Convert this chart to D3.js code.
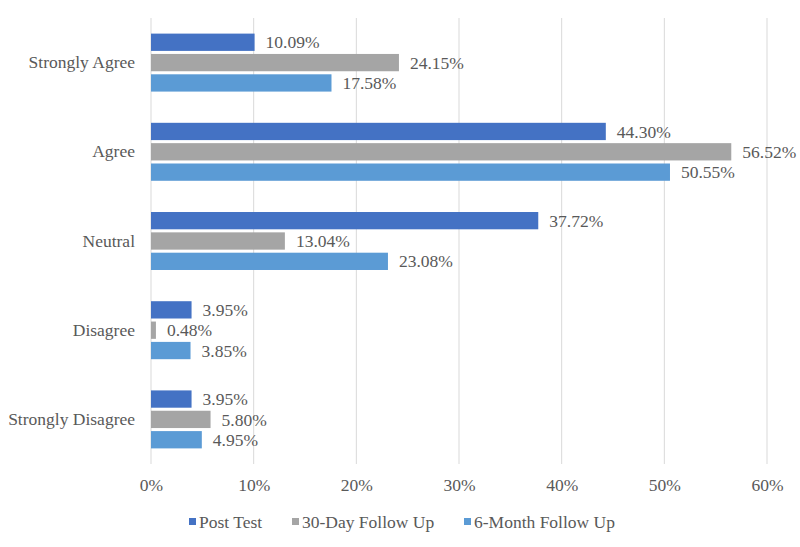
<!DOCTYPE html>
<html>
<head>
<meta charset="utf-8">
<script src="https://cdn.jsdelivr.net/npm/d3@7"></script>
<style>
  body { margin: 0; background: #fff; }
  text { font-family: "Liberation Serif", "Times New Roman", serif; fill: #595959; }
</style>
</head>
<body>
<div id="chart"></div>
<script>
// 数据
const categories = ["Strongly Agree", "Agree", "Neutral", "Disagree", "Strongly Disagree"];
const seriesNames = ["Post Test", "30-Day Follow Up", "6-Month Follow Up"];
const postTest = [10.09, 44.30, 37.72, 3.95, 3.95];
const followUp30 = [24.15, 56.52, 13.04, 0.48, 5.80];
const followUp6m = [17.58, 50.55, 23.08, 3.85, 4.95];
const xTicks = [0, 10, 20, 30, 40, 50, 60];
const colors = ["#4472C4", "#A5A5A5", "#5B9BD5"];

const seriesValues = [postTest, followUp30, followUp6m];

const width = 800, height = 547;
const margin = { top: 18, right: 33, bottom: 83, left: 151 };
const fontSize = "17.5px";

const svg = d3.select("#chart")
              .append("svg")
              .attr("width", width)
              .attr("height", height);

const x = d3.scaleLinear()
            .domain([0, 60])
            .range([margin.left, width - margin.right]);

const y0 = d3.scaleBand()
             .domain(categories)
             .range([margin.top, height - margin.bottom])
             .paddingInner(0.35)
             .paddingOuter(0.175);

const y1 = d3.scaleBand()
             .domain(seriesNames)
             .range([0, y0.bandwidth()])
             .paddingInner(0.15);

// 网格线
svg.append("g")
   .selectAll("line")
   .data(xTicks)
   .enter()
   .append("line")
   .attr("x1", d => x(d))
   .attr("x2", d => x(d))
   .attr("y1", margin.top)
   .attr("y2", height - margin.bottom)
   .attr("stroke", "#d9d9d9")
   .attr("stroke-width", 1);

// x轴标签
const xAxis = svg.append("g")
   .attr("transform", `translate(0,${height - margin.bottom})`)
   .call(d3.axisBottom(x).tickValues(xTicks).tickFormat(d => d + "%").tickSize(0).tickPadding(15));
xAxis.select(".domain").remove();
xAxis.selectAll("text")
     .style("font-size", fontSize)
     .attr("fill", "#595959")
     .style("font-family", "'Liberation Serif', serif");

// y轴标签
const yAxis = svg.append("g")
   .attr("transform", `translate(${margin.left},0)`)
   .call(d3.axisLeft(y0).tickSize(0).tickPadding(16));
yAxis.select(".domain").remove();
yAxis.selectAll("text")
     .style("font-size", fontSize)
     .attr("fill", "#595959")
     .style("font-family", "'Liberation Serif', serif");

// 柱子
const rows = [];
categories.forEach((c, i) => {
    seriesNames.forEach((s, j) => {
        rows.push({ cat: c, series: s, value: seriesValues[j][i], color: colors[j] });
    });
});

svg.selectAll(".bar")
   .data(rows)
   .enter()
   .append("rect")
   .attr("class", "bar")
   .attr("x", x(0))
   .attr("y", d => y0(d.cat) + y1(d.series))
   .attr("width", d => x(d.value) - x(0))
   .attr("height", y1.bandwidth())
   .attr("fill", d => d.color);

// 数据标签
svg.selectAll(".label")
   .data(rows)
   .enter()
   .append("text")
   .attr("class", "label")
   .attr("x", d => x(d.value) + 11)
   .attr("y", d => y0(d.cat) + y1(d.series) + y1.bandwidth() / 2)
   .attr("dy", ".35em")
   .style("font-size", fontSize)
   .text(d => d.value.toFixed(2) + "%");

// 图例
const legendX = [189, 292, 464];
const legend = svg.selectAll(".legend")
                  .data(seriesNames)
                  .enter()
                  .append("g")
                  .attr("class", "legend")
                  .attr("transform", (d, i) => `translate(${legendX[i]},522)`);

legend.append("rect")
      .attr("x", 0)
      .attr("y", -4)
      .attr("width", 7)
      .attr("height", 7)
      .attr("fill", (d, i) => colors[i]);

legend.append("text")
      .attr("x", 10)
      .attr("y", 0)
      .attr("dy", ".35em")
      .style("font-size", fontSize)
      .text(d => d);
</script>
</body>
</html>
